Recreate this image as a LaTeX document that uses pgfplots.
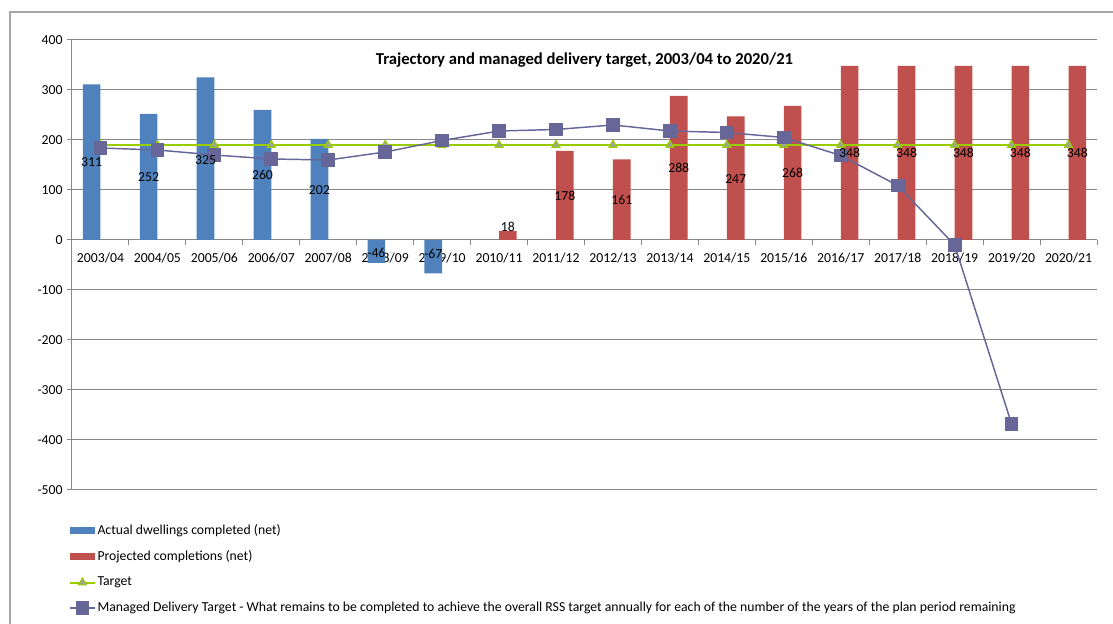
\documentclass[border=0pt]{standalone}
\usepackage{pgfplots}
\pgfplotsset{compat=1.18}
\usepackage{pgfplotstable}
\usepackage{fontspec}
\setmainfont{Carlito}
\definecolor{cblue}{HTML}{4F81BD}
\definecolor{cred}{HTML}{C0504D}
\definecolor{cgreen}{HTML}{99CC00}
\definecolor{cpurple}{HTML}{666699}
\definecolor{tri}{HTML}{A0A0A0}
\definecolor{gridgray}{HTML}{888888}
\definecolor{framegray}{HTML}{A6A6A6}
\pgfplotsset{
  linelegend/.style={legend image code/.code={\draw[mark repeat=2,mark phase=2,##1] plot coordinates {(0pt,0pt) (9.4pt,0pt) (18.75pt,0pt)};}},
  barlegend/.style={legend image code/.code={\fill[##1] (0pt,-2.6pt) rectangle (18.75pt,2.6pt);}},
}

\pgfplotstableread{
x v
0 311
1 252
2 325
3 260
4 202
5 -46
6 -67
}\actual
\pgfplotstableread{
x v
7 18
8 178
9 161
10 288
11 247
12 268
13 348
14 348
15 348
16 348
17 348
}\projected
\pgfplotstableread{
x y lab
0 155 311
1 126 252
2 160 325
3 130 260
4 100 202
5 -26 -46
6 -28 -67
}\actuallab
\pgfplotstableread{
x y lab
7 26 18
8 88 178
9 80 161
10 144 288
11 122 247
12 134 268
13 174 348
14 174 348
15 174 348
16 174 348
17 174 348
}\projectedlab
\pgfplotstableread{
x v
0 190
1 190
2 190
3 190
4 190
5 190
6 190
7 190
8 190
9 190
10 190
11 190
12 190
13 190
14 190
15 190
16 190
17 190
}\target
\pgfplotstableread{
x v
0 184
1 180
2 170
3 162
4 160
5 176
6 199
7 218
8 221
9 230
10 218
11 215
12 205
13 169
14 109
15 -10
16 -368
}\managed

\begin{document}
\begin{tikzpicture}
\path[use as bounding box] (0pt,0pt) rectangle (834.75pt,468pt);
\draw[framegray, line width=0.8pt] (7.5pt,0pt) -- (7.5pt,459pt) -- (834.75pt,459pt);
\begin{axis}[
  at={(54pt,100.5pt)}, anchor=south west,
  scale only axis, width=768.75pt, height=337.5pt,
  xmin=-0.5, xmax=17.5, ymin=-500, ymax=400,
  axis x line=middle, axis y line=left,
  axis line style={-, draw=gridgray, line width=0.75pt},
  xtick={0,...,17},
  xticklabels={2003/04,2004/05,2005/06,2006/07,2007/08,2008/09,2009/10,2010/11,2011/12,2012/13,2013/14,2014/15,2015/16,2016/17,2017/18,2018/19,2019/20,2020/21},
  major x tick style={draw=none},
  minor xtick={-0.5,0.5,...,17.5},
  minor x tick style={draw=gridgray, line width=0.75pt},
  minor tick length=4pt,
  ytick={-500,-400,-300,-200,-100,0,100,200,300,400},
  yticklabels={-500,-400,-300,-200,-100,0,100,200,300,400},
  y tick style={draw=gridgray, line width=0.75pt},
  major tick length=3.5pt,
  tick align=outside,
  ymajorgrids, grid style={draw=gridgray, line width=0.75pt},
  tick label style={font=\fontsize{10.3}{12}\selectfont},
  xticklabel style={yshift=-3pt},
  title={Trajectory and managed delivery target, 2003/04 to 2020/21},
  title style={at={(axis description cs:0.5,0.938)}, anchor=center, yshift=0pt, font=\bfseries\fontsize{12.5}{14}\selectfont},
  legend cell align=left,
  legend style={draw=none, fill=none, at={(axis description cs:0,-0.066)}, anchor=north west,
    xshift=-5.5pt, font=\fontsize{10.3}{11}\selectfont, row sep=8.4pt,
    nodes={inner sep=1.2pt}},
  clip=false,
]
\addplot[ybar, bar width=0.31, bar shift=-0.155, fill=cblue, draw=none, barlegend]
  table[x=x, y=v] {\actual};
\addlegendentry{Actual dwellings completed (net)}
\addplot[ybar, bar width=0.31, bar shift=0.155, fill=cred, draw=none, barlegend]
  table[x=x, y=v] {\projected};
\addlegendentry{Projected completions (net)}
\addplot[cgreen, line width=1.5pt, mark=triangle*, mark size=3.4pt,
  mark options={fill=tri, draw=cgreen, line width=0.8pt}, linelegend]
  table[x=x, y=v] {\target};
\addlegendentry{Target}
\addplot[cpurple, line width=1.1pt, mark=square*, mark size=4.6pt,
  mark options={fill=cpurple, draw=cpurple}, linelegend]
  table[x=x, y=v] {\managed};
\addlegendentry{Managed Delivery Target - What remains to be completed to achieve the overall RSS target annually for each of the number of the years of the plan period remaining}
\addplot[draw=none, forget plot, nodes near coords, point meta=explicit symbolic,
  nodes near coords style={anchor=center, text=black, font=\fontsize{10.3}{12}\selectfont}]
  table[x expr=\thisrow{x}-0.155, y=y, meta=lab] {\actuallab};
\addplot[draw=none, forget plot, nodes near coords, point meta=explicit symbolic,
  nodes near coords style={anchor=center, text=black, font=\fontsize{10.3}{12}\selectfont}]
  table[x expr=\thisrow{x}+0.155, y=y, meta=lab] {\projectedlab};
\end{axis}
\end{tikzpicture}
\end{document}
